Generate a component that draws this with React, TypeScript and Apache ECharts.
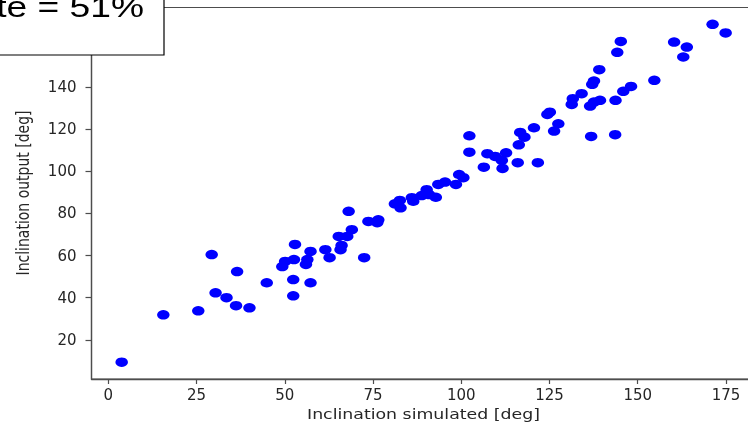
import React, { useEffect, useRef } from "react";
import * as echarts from "echarts";

const simulated: number[] = [
  3.8, 15.6, 25.5, 29.3, 30.4, 33.5, 36.2, 36.5, 40.0, 44.9,
  49.3, 50.1, 52.6, 52.9, 52.4, 52.4, 56.0, 56.4, 57.3, 57.3,
  61.5, 62.7, 65.8, 66.1, 65.3, 67.7, 69.0, 68.1, 72.5, 73.7,
  76.5, 76.2, 81.2, 82.8, 82.6, 86.0, 86.4, 88.8, 90.2, 90.9,
  92.8, 93.5, 95.4, 98.5, 99.4, 100.6, 102.3, 102.3, 106.4, 107.4,
  109.6, 111.7, 111.5, 112.7, 116.0, 116.3, 116.7, 117.9, 120.6, 121.7,
  125.1, 124.4, 127.5, 126.3, 131.3, 131.6, 134.1, 136.5, 137.6, 139.3,
  137.1, 137.6, 139.1, 136.8, 143.6, 143.7, 145.9, 148.1, 144.2, 145.2,
  154.7, 160.3, 163.9, 162.9, 171.2, 174.9,
];
const output: number[] = [
  9.4, 31.9, 33.8, 60.5, 42.3, 40.0, 36.2, 52.4, 35.2, 47.1,
  54.8, 57.2, 58.1, 65.3, 48.6, 40.9, 55.8, 58.1, 62.0, 47.1,
  62.8, 59.0, 62.8, 64.8, 69.1, 69.1, 72.3, 81.0, 59.0, 76.2,
  77.0, 75.6, 84.6, 82.7, 86.2, 87.5, 85.8, 88.5, 91.3, 89.0,
  87.7, 93.8, 94.9, 93.8, 98.5, 97.0, 116.9, 109.1, 102.0, 108.4,
  107.1, 101.4, 105.2, 108.8, 104.1, 112.6, 118.5, 116.2, 120.7, 104.1,
  128.1, 127.0, 122.6, 119.1, 131.8, 134.5, 136.9, 131.0, 132.9, 133.7,
  141.3, 142.9, 148.3, 116.6, 117.4, 133.7, 138.0, 140.3, 156.5, 161.7,
  143.2, 161.4, 159.0, 154.3, 169.8, 165.7,
];
const xTicks: number[] = [0, 25, 50, 75, 100, 125, 150, 175];
const yTicks: number[] = [20, 40, 60, 80, 100, 120, 140];
const xTitle = "Inclination simulated [deg]";
const yTitle = "Inclination output [deg]";
const boxText = "te = 51%";

export default function App() {
  const ref = useRef<HTMLDivElement>(null);
  useEffect(() => {
    if (!ref.current) return;
    const chart = echarts.init(ref.current, undefined, { renderer: "svg" });
    const axisColor = "#4d4d4d";
    const labelStyle = { color: "#262626", fontFamily: "DejaVu Sans", fontSize: 15 };
    chart.setOption({
      animation: false,
      grid: {
        left: 91.5,
        top: 7.5,
        width: 664.5,
        height: 371.5,
        containLabel: false,
        outerBoundsMode: "none",
        show: true,
        borderColor: axisColor,
        borderWidth: 1.2,
        backgroundColor: "#fff",
      },
      xAxis: {
        type: "value",
        min: -4.75,
        max: 183.5,
        splitLine: { show: false },
        axisLine: { show: true, onZero: false, lineStyle: { color: axisColor, width: 1.3 } },
        axisTick: { show: true, length: 5, lineStyle: { color: axisColor, width: 1.2 }, customValues: xTicks },
        axisLabel: { ...labelStyle, margin: 8, customValues: xTicks },
      },
      yAxis: {
        type: "value",
        min: 1.4,
        max: 177.8,
        splitLine: { show: false },
        axisLine: { show: true, onZero: false, lineStyle: { color: axisColor, width: 1.3 } },
        axisTick: { show: true, length: 6, lineStyle: { color: axisColor, width: 1.2 }, customValues: yTicks },
        axisLabel: { ...labelStyle, margin: 15, customValues: yTicks },
      },
      series: [
        {
          type: "scatter",
          data: simulated.map((x, i) => [x, output[i]]),
          symbol: "circle",
          symbolSize: [12.5, 9.5],
          itemStyle: { color: "#0000ff", opacity: 1 },
        },
      ],
      graphic: [
        {
          type: "text",
          x: 423.5,
          y: 414,
          scaleX: 1.24,
          style: {
            text: xTitle,
            fontFamily: "DejaVu Sans",
            fontSize: 14,
            fill: "#262626",
            textAlign: "center",
            textVerticalAlign: "middle",
          },
        },
        {
          type: "text",
          x: 22.5,
          y: 193,
          rotation: Math.PI / 2,
          scaleY: 1.24,
          style: {
            text: yTitle,
            fontFamily: "DejaVu Sans",
            fontSize: 14,
            fill: "#262626",
            textAlign: "center",
            textVerticalAlign: "middle",
          },
        },
        {
          type: "rect",
          shape: { x: -10, y: -10, width: 174, height: 65 },
          style: { fill: "#fff", stroke: "#000", lineWidth: 1.2 },
          z: 100,
        },
        {
          type: "text",
          x: 144,
          y: 21.5,
          scaleX: 1.24,
          z: 101,
          style: {
            text: boxText,
            fontFamily: "Liberation Sans",
            fontSize: 30,
            fill: "#000",
            textAlign: "right",
            textVerticalAlign: "bottom",
          },
        },
      ],
    });
    return () => chart.dispose();
  }, []);
  return <div ref={ref} style={{ width: 748, height: 423, position: "fixed", left: 0, top: 0 }} />;
}
